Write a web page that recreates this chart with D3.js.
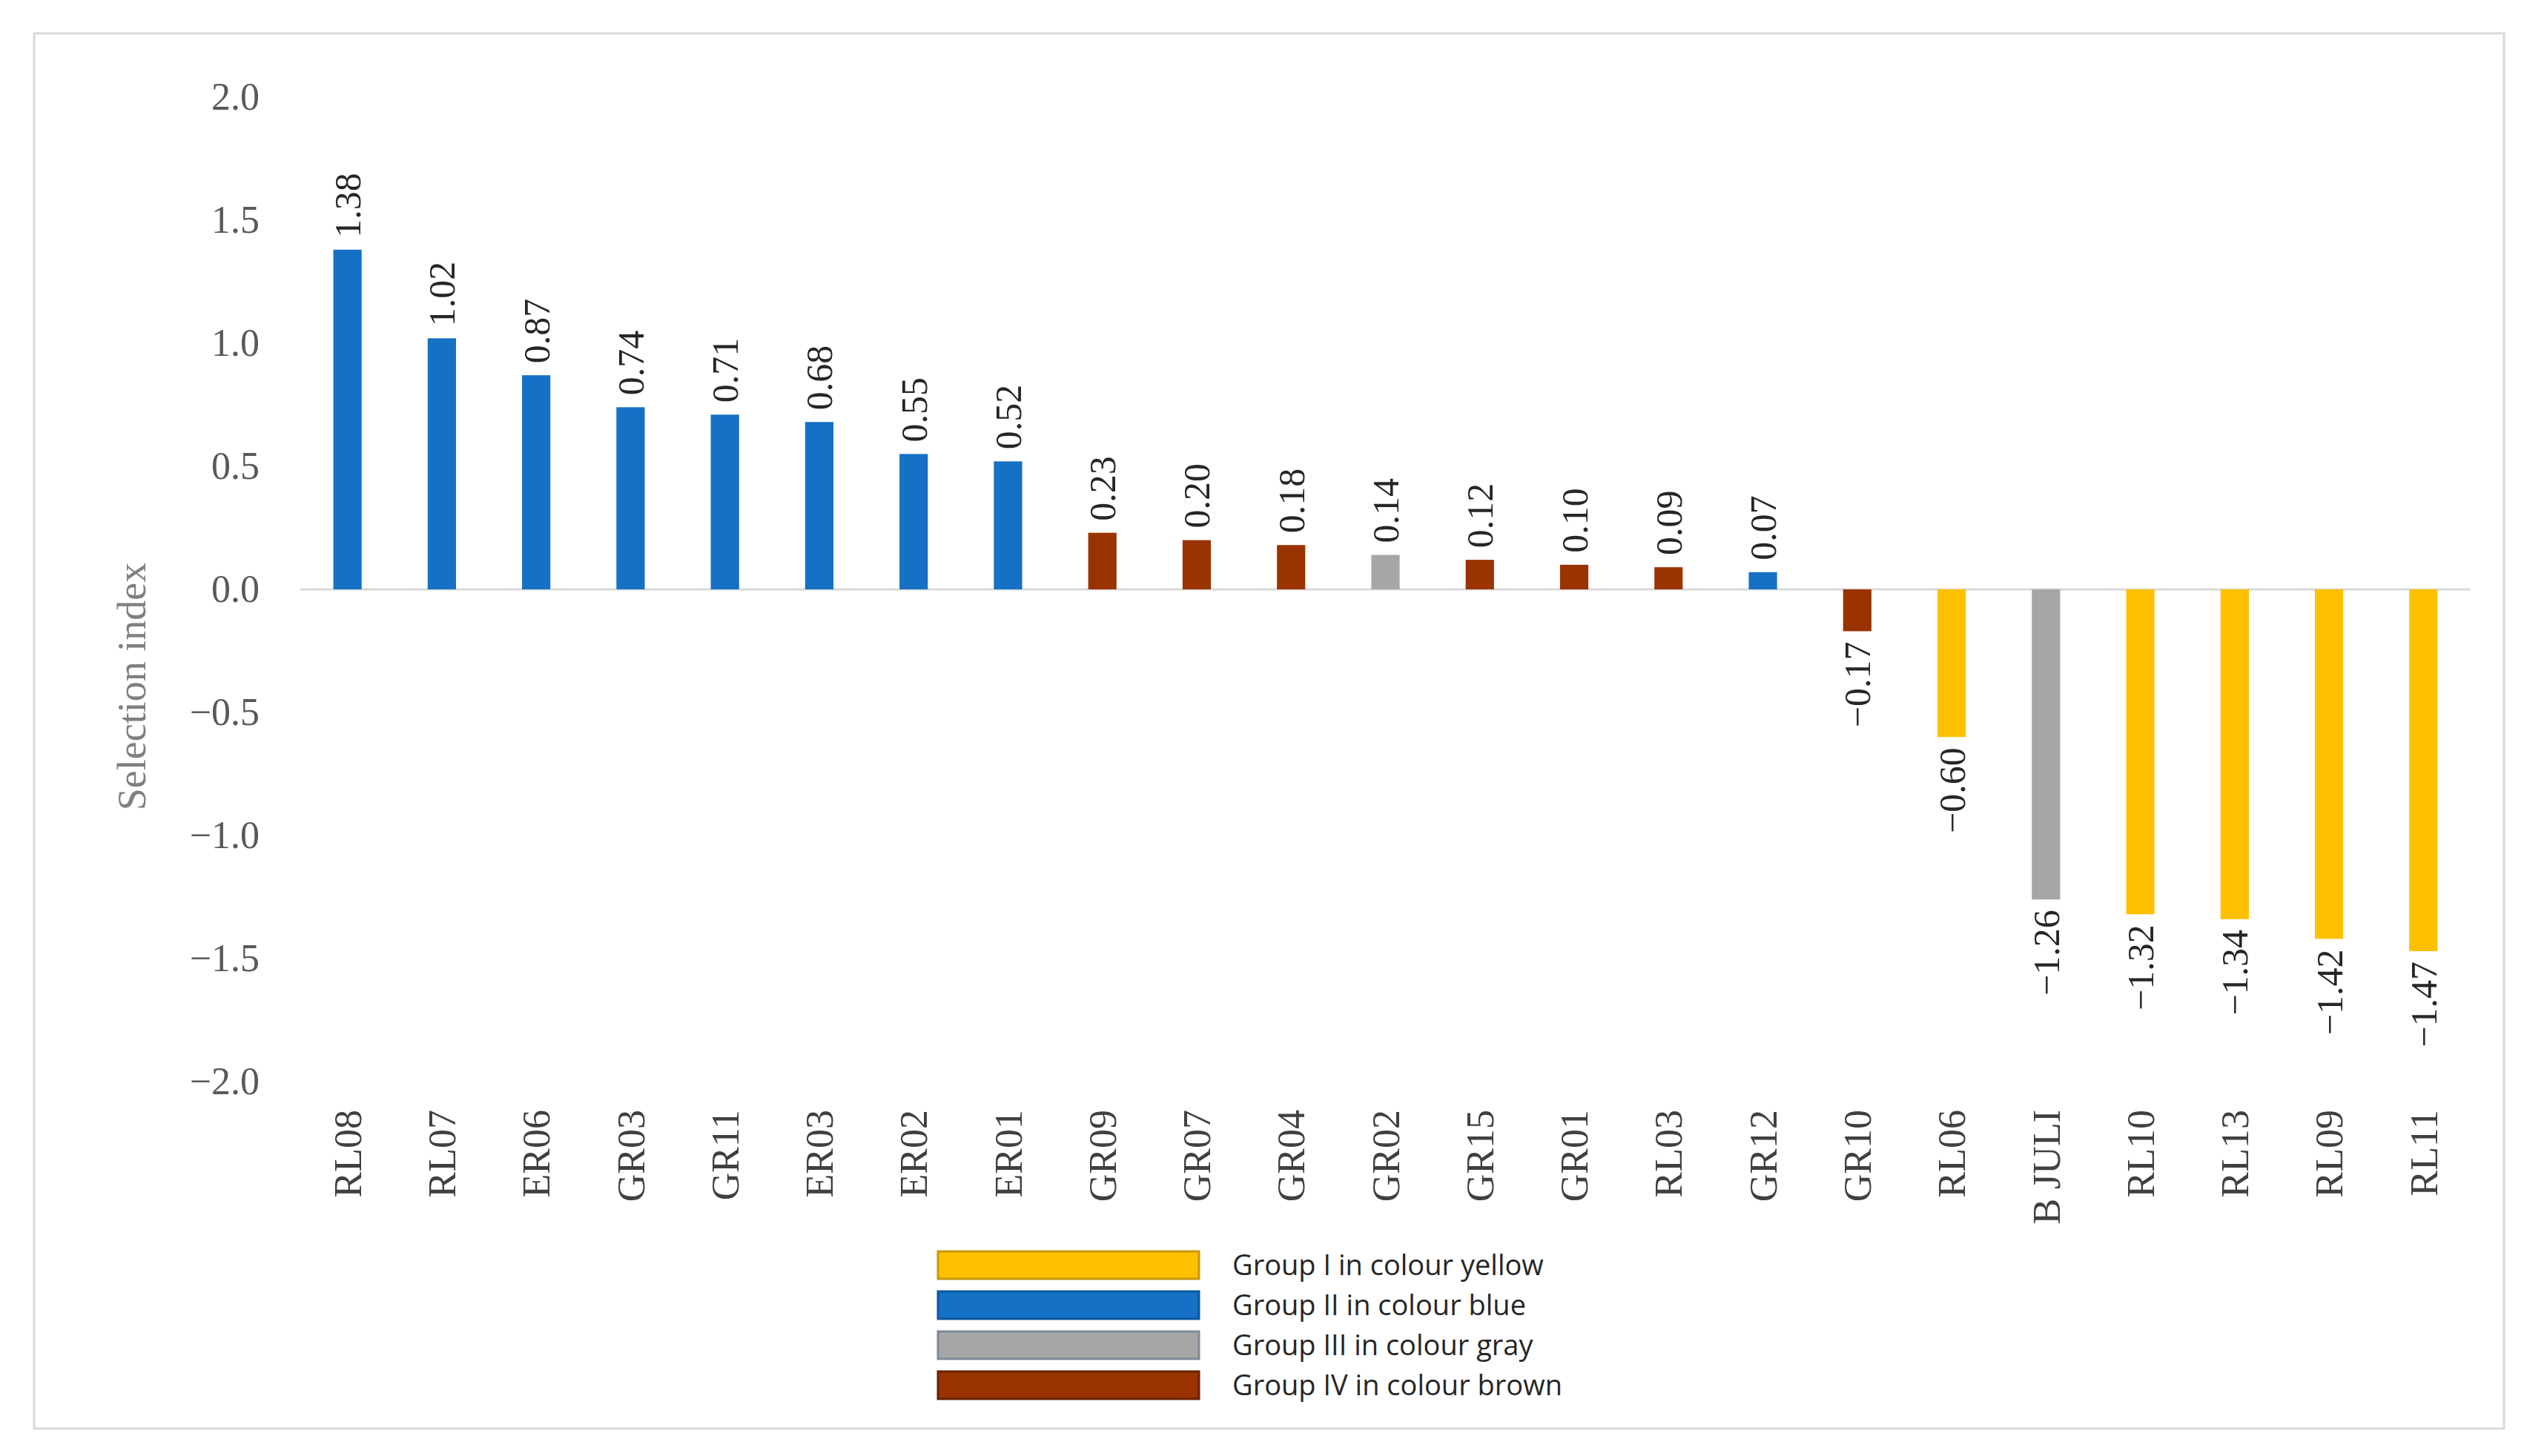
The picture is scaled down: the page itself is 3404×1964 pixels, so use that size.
<!DOCTYPE html>
<html>
<head>
<meta charset="utf-8">
<script src="https://cdn.jsdelivr.net/npm/d3@7"></script>
<style>
  body { margin: 0; background: #fff; }
  svg { display: block; }
</style>
</head>
<body>
<div id="chart"></div>
<script>
// categories in plotted order
const categories = ["RL08", "RL07", "ER06", "GR03", "GR11", "ER03", "ER02", "ER01",
  "GR09", "GR07", "GR04", "GR02", "GR15", "GR01", "RL03", "GR12",
  "GR10", "RL06", "B JULI", "RL10", "RL13", "RL09", "RL11"];
const values = [1.38, 1.02, 0.87, 0.74, 0.71, 0.68, 0.55, 0.52,
  0.23, 0.20, 0.18, 0.14, 0.12, 0.10, 0.09, 0.07,
  -0.17, -0.60, -1.26, -1.32, -1.34, -1.42, -1.47];
// group of each bar (1..4)
const groups = [2, 2, 2, 2, 2, 2, 2, 2,
  4, 4, 4, 3, 4, 4, 4, 2,
  4, 1, 3, 1, 1, 1, 1];
const groupLabels = ["Group I in colour yellow", "Group II in colour blue",
  "Group III in colour gray", "Group IV in colour brown"];
const groupColors = ["#ffc000", "#1570c6", "#a6a6a6", "#993300"];
const groupStrokes = ["#c8960a", "#0d58a0", "#7e8a9a", "#6a2200"];
const yTicks = [-2.0, -1.5, -1.0, -0.5, 0.0, 0.5, 1.0, 1.5, 2.0];

const W = 3404, H = 1964;
const serif = '"Liberation Serif", "DejaVu Serif", serif';
const sans = '"Liberation Sans Narrow", "Open Sans", sans-serif';

const svg = d3.select("#chart").append("svg").attr("width", W).attr("height", H);

// outer frame
svg.append("rect")
  .attr("x", 46).attr("y", 45).attr("width", 3331).attr("height", 1882)
  .attr("fill", "#fff").attr("stroke", "#d9d9d9").attr("stroke-width", 3);

const x = d3.scaleBand()
  .domain(categories)
  .range([405, 3332])
  .paddingInner(0.7)
  .paddingOuter(0.35);

const y = d3.scaleLinear().domain([-2, 2]).range([1459, 131]);

// y axis labels
const yAxis = svg.append("g")
  .attr("transform", `translate(405,0)`)
  .call(d3.axisLeft(y).tickValues(yTicks).tickFormat(d3.format(".1f")).tickSize(0).tickPadding(55));
yAxis.select(".domain").remove();
yAxis.selectAll("text")
  .attr("font-family", serif).attr("font-size", 52).attr("fill", "#595959");

// zero line
svg.append("line")
  .attr("x1", 405).attr("x2", 3332)
  .attr("y1", y(0)).attr("y2", y(0))
  .attr("stroke", "#d9d9d9").attr("stroke-width", 3);

// bars
svg.selectAll(".bar").data(categories)
  .enter().append("rect")
  .attr("class", "bar")
  .attr("x", d => x(d))
  .attr("width", x.bandwidth())
  .attr("y", (d, i) => y(Math.max(0, values[i])))
  .attr("height", (d, i) => Math.abs(y(values[i]) - y(0)))
  .attr("fill", (d, i) => groupColors[groups[i] - 1]);

// value labels
const fmt = d3.format(".2f");
svg.selectAll(".val").data(categories)
  .enter().append("text")
  .attr("class", "val")
  .attr("transform", (d, i) => {
    const cx = x(d) + x.bandwidth() / 2;
    const cy = values[i] >= 0 ? y(values[i]) - 16 : y(values[i]) + 14;
    return `translate(${cx},${cy}) rotate(-90)`;
  })
  .attr("dy", "0.35em")
  .attr("text-anchor", (d, i) => values[i] >= 0 ? "start" : "end")
  .attr("font-family", serif).attr("font-size", 50).attr("fill", "#262626")
  .text((d, i) => fmt(values[i]));

// category axis
const xAxis = svg.append("g")
  .attr("transform", `translate(0,${y(-2)})`)
  .call(d3.axisBottom(x).tickSize(0));
xAxis.select(".domain").remove();
xAxis.selectAll("text")
  .attr("transform", "rotate(-90)")
  .attr("x", -38).attr("y", 0).attr("dy", "0.35em")
  .attr("text-anchor", "end")
  .attr("font-family", serif).attr("font-size", 52).attr("fill", "#404040");

// y axis title
svg.append("text")
  .attr("transform", "translate(177,926) rotate(-90)")
  .attr("dy", "0.35em")
  .attr("text-anchor", "middle")
  .attr("font-family", serif).attr("font-size", 54).attr("fill", "#7f7f7f")
  .text("Selection index");

// legend
const leg = svg.append("g").selectAll("g").data(groupLabels)
  .enter().append("g")
  .attr("transform", (d, i) => `translate(1265,${1688 + i * 54})`);
leg.append("rect")
  .attr("width", 352).attr("height", 37)
  .attr("fill", (d, i) => groupColors[i])
  .attr("stroke", (d, i) => groupStrokes[i]).attr("stroke-width", 3);
leg.append("text")
  .attr("x", 397).attr("y", 19).attr("dy", "0.35em")
  .attr("font-family", sans).attr("font-size", 38).attr("fill", "#262626")
  .text(d => d);
</script>
</body>
</html>
